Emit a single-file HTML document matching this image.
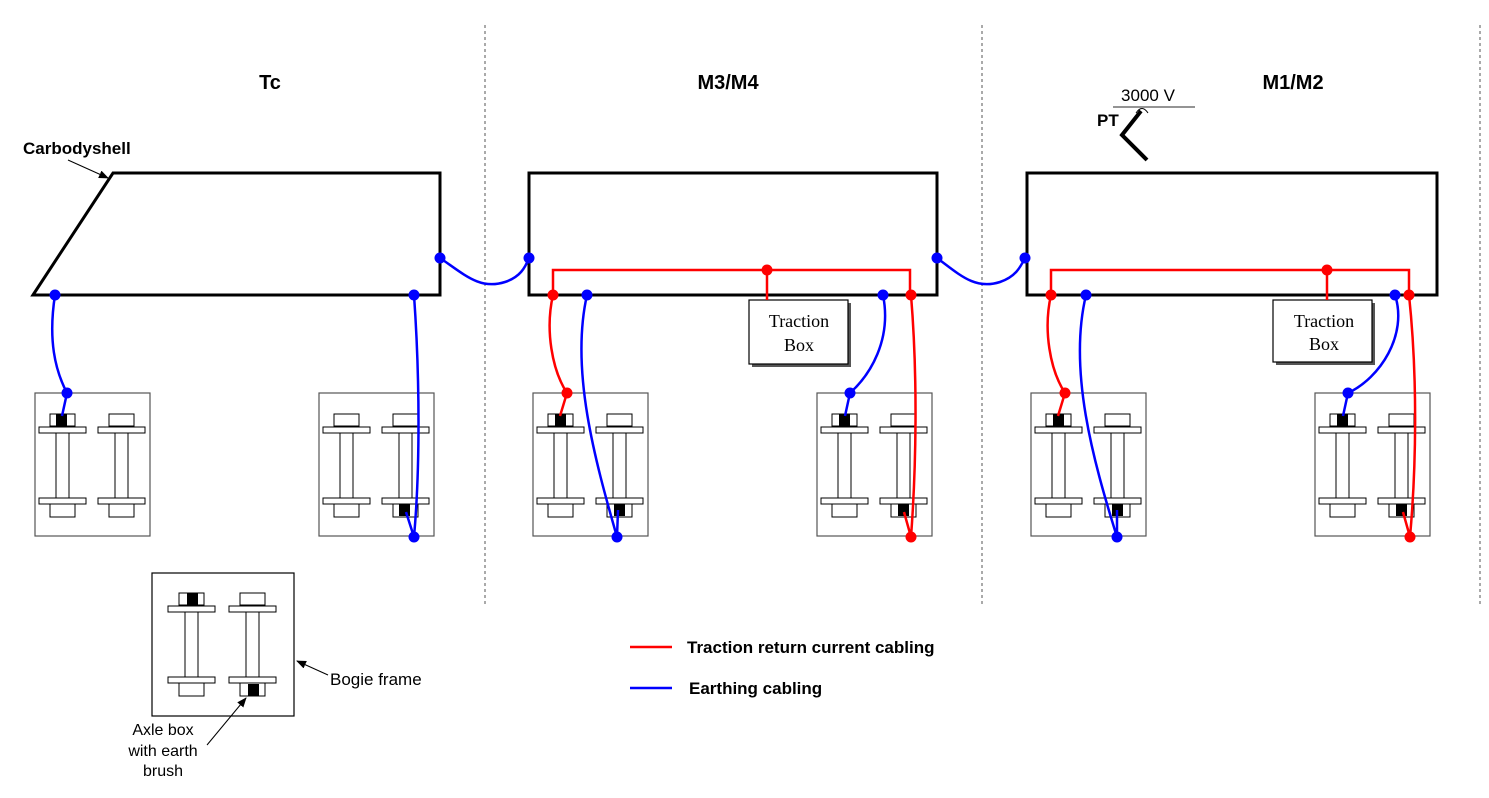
<!DOCTYPE html>
<html><head><meta charset="utf-8"><style>body{margin:0;background:#fff}svg{display:block}text{font-family:"Liberation Sans",sans-serif}</style></head><body>
<svg width="1489" height="798" viewBox="0 0 1489 798" xmlns="http://www.w3.org/2000/svg">
<defs>
<marker id="ar" markerWidth="10" markerHeight="8" refX="9" refY="4" orient="auto" markerUnits="userSpaceOnUse"><path d="M0,0 L10,4 L0,8 Z" fill="#000"/></marker>
<g id="axle">
<rect x="11" y="0" width="25" height="12" fill="#fff" stroke="#000"/>
<rect x="0" y="13" width="47" height="6" fill="#fff" stroke="#000"/>
<rect x="17" y="19" width="13" height="65" fill="#fff" stroke="#000"/>
<rect x="0" y="84" width="47" height="6" fill="#fff" stroke="#000"/>
<rect x="11" y="90" width="25" height="13" fill="#fff" stroke="#000"/>
</g>
<g id="bog">
<rect x="0" y="0" width="115" height="143" fill="#fff" stroke="#555" stroke-width="1.2"/>
<use href="#axle" x="4" y="21"/>
<use href="#axle" x="63" y="21"/>
</g>
</defs>
<g stroke="#555" stroke-dasharray="3,3" stroke-width="1">
<line x1="485" y1="25" x2="485" y2="605"/><line x1="982" y1="25" x2="982" y2="605"/><line x1="1480" y1="25" x2="1480" y2="605"/>
</g>
<g font-weight="bold" font-size="20" text-anchor="middle">
<text x="270" y="89">Tc</text><text x="728" y="89">M3/M4</text><text x="1293" y="89">M1/M2</text>
</g>
<text x="23" y="154" font-weight="bold" font-size="17">Carbodyshell</text>
<line x1="68" y1="160" x2="108" y2="178" stroke="#000" marker-end="url(#ar)"/>
<g fill="#fff" stroke="#000" stroke-width="3">
<polygon points="33,295 113,173 440,173 440,295"/>
<rect x="529" y="173" width="408" height="122"/>
<rect x="1027" y="173" width="410" height="122"/>
</g>
<!-- PT -->
<line x1="1113" y1="107" x2="1195" y2="107" stroke="#555" stroke-width="1.2"/>
<text x="1148" y="101" font-size="17" text-anchor="middle">3000 V</text>
<path d="M1136,113 Q1142,104 1148,113" fill="none" stroke="#000"/>
<polyline points="1141,111 1122,135 1147,160" fill="none" stroke="#000" stroke-width="4"/>
<text x="1097" y="126" font-weight="bold" font-size="17">PT</text>
<!-- bogies -->
<use href="#bog" x="35" y="393"/><use href="#bog" x="319" y="393"/>
<use href="#bog" x="533" y="393"/><use href="#bog" x="817" y="393"/>
<use href="#bog" x="1031" y="393"/><use href="#bog" x="1315" y="393"/>
<g fill="#000">
<rect x="56" y="414" width="11" height="12"/><rect x="399" y="504" width="11" height="12"/>
<rect x="555" y="414" width="11" height="12"/><rect x="614" y="504" width="11" height="12"/>
<rect x="839" y="414" width="11" height="12"/><rect x="898" y="504" width="11" height="12"/>
<rect x="1053" y="414" width="11" height="12"/><rect x="1112" y="504" width="11" height="12"/>
<rect x="1337" y="414" width="11" height="12"/><rect x="1396" y="504" width="11" height="12"/>
</g>
<!-- traction boxes -->
<rect x="752" y="303" width="99" height="64" fill="#555"/>
<rect x="749" y="300" width="99" height="64" fill="#fff" stroke="#000" stroke-width="1.2"/>
<text x="799" y="327" font-size="18" text-anchor="middle" style="font-family:'Liberation Serif',serif">Traction</text>
<text x="799" y="351" font-size="18" text-anchor="middle" style="font-family:'Liberation Serif',serif">Box</text>
<rect x="1276" y="303" width="99" height="62" fill="#555"/>
<rect x="1273" y="300" width="99" height="62" fill="#fff" stroke="#000" stroke-width="1.2"/>
<text x="1324" y="327" font-size="18" text-anchor="middle" style="font-family:'Liberation Serif',serif">Traction</text>
<text x="1324" y="350" font-size="18" text-anchor="middle" style="font-family:'Liberation Serif',serif">Box</text>
<!-- red wires -->
<g fill="none" stroke="#f00" stroke-width="2.5">
<polyline points="553,295 553,270 910,270 910,295"/><line x1="767" y1="270" x2="767" y2="300"/>
<polyline points="1051,295 1051,270 1409,270 1409,295"/><line x1="1327" y1="270" x2="1327" y2="300"/>
<path d="M553,295 C545,330 552,370 567,393 L560,416"/>
<path d="M911,295 C918,380 916,470 911,537 L904,512"/>
<path d="M1051,295 C1043,330 1050,370 1065,393 L1058,416"/>
<path d="M1409,295 C1418,380 1416,470 1410,537 L1403,512"/>
</g>
<!-- blue wires -->
<g fill="none" stroke="#00f" stroke-width="2.5">
<path d="M55,295 C48,340 55,370 67,393 L62,416"/>
<path d="M414,295 C420,380 420,470 414,537 L406,512"/>
<path d="M440,258 C465,275 480,290 505,282 C520,277 525,268 529,258"/>
<path d="M937,258 C960,275 975,290 1000,282 C1015,277 1020,268 1025,258"/>
<path d="M587,295 C570,370 595,460 617,537 L618,510"/>
<path d="M883,295 C892,340 870,375 850,393 L845,416"/>
<path d="M1086,295 C1068,370 1093,460 1117,537 L1117,510"/>
<path d="M1395,295 C1408,335 1380,378 1348,393 L1343,416"/>
</g>
<g fill="#00f">
<circle cx="55" cy="295" r="5.5"/><circle cx="67" cy="393" r="5.5"/><circle cx="414" cy="295" r="5.5"/><circle cx="414" cy="537" r="5.5"/>
<circle cx="440" cy="258" r="5.5"/><circle cx="529" cy="258" r="5.5"/><circle cx="937" cy="258" r="5.5"/><circle cx="1025" cy="258" r="5.5"/>
<circle cx="587" cy="295" r="5.5"/><circle cx="617" cy="537" r="5.5"/><circle cx="883" cy="295" r="5.5"/><circle cx="850" cy="393" r="5.5"/>
<circle cx="1086" cy="295" r="5.5"/><circle cx="1117" cy="537" r="5.5"/><circle cx="1395" cy="295" r="5.5"/><circle cx="1348" cy="393" r="5.5"/>
</g>
<g fill="#f00">
<circle cx="553" cy="295" r="5.5"/><circle cx="567" cy="393" r="5.5"/><circle cx="767" cy="270" r="5.5"/><circle cx="911" cy="295" r="5.5"/><circle cx="911" cy="537" r="5.5"/>
<circle cx="1051" cy="295" r="5.5"/><circle cx="1065" cy="393" r="5.5"/><circle cx="1327" cy="270" r="5.5"/><circle cx="1409" cy="295" r="5.5"/><circle cx="1410" cy="537" r="5.5"/>
</g>
<!-- legend bogie -->
<rect x="152" y="573" width="142" height="143" fill="#fff" stroke="#000" stroke-width="1.2"/>
<use href="#axle" x="168" y="593"/><use href="#axle" x="229" y="593"/>
<rect x="187" y="593" width="11" height="12"/><rect x="248" y="684" width="11" height="12"/>
<text x="330" y="685" font-size="17">Bogie frame</text>
<line x1="328" y1="675" x2="297" y2="661" stroke="#000" marker-end="url(#ar)"/>
<g font-size="16" text-anchor="middle"><text x="163" y="735">Axle box</text><text x="163" y="756">with earth</text><text x="163" y="776">brush</text></g>
<line x1="207" y1="745" x2="246" y2="698" stroke="#000" marker-end="url(#ar)"/>
<!-- legend -->
<line x1="630" y1="647" x2="672" y2="647" stroke="#f00" stroke-width="2.5"/>
<text x="687" y="653" font-weight="bold" font-size="17">Traction return current cabling</text>
<line x1="630" y1="688" x2="672" y2="688" stroke="#00f" stroke-width="2.5"/>
<text x="689" y="694" font-weight="bold" font-size="17">Earthing cabling</text>
</svg>
</body></html>
